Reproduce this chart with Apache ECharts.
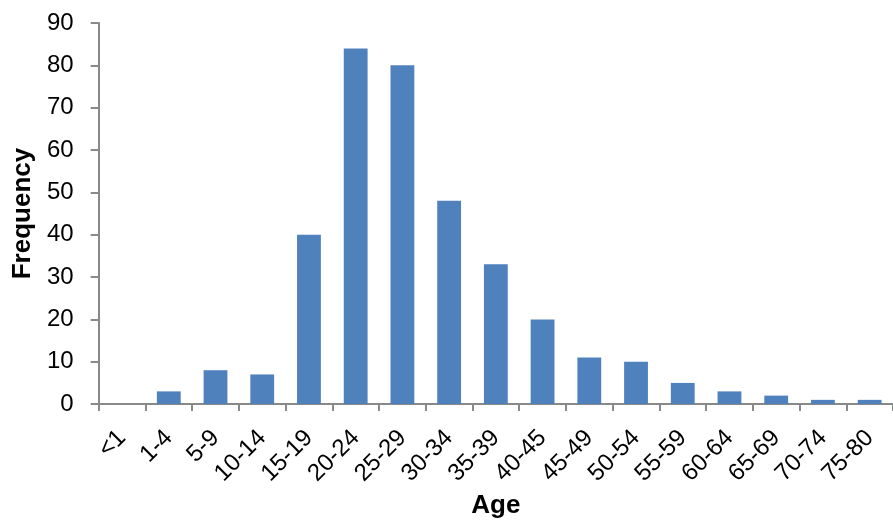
<!DOCTYPE html>
<html>
<head>
<meta charset="utf-8">
<script src="https://cdn.jsdelivr.net/npm/echarts@6/dist/echarts.min.js"></script>
<style>html,body{margin:0;padding:0;background:#fff;}#c{width:893px;height:524px;}</style>
</head>
<body>
<div id="c"></div>
<script>
const categories = ['<1','1-4','5-9','10-14','15-19','20-24','25-29','30-34','35-39','40-45','45-49','50-54','55-59','60-64','65-69','70-74','75-80'];
const frequency = [0, 3, 8, 7, 40, 84, 80, 48, 33, 20, 11, 10, 5, 3, 2, 1, 1];
const yTicks = {min: 0, max: 90, interval: 10};

const font = "'Liberation Sans', Arial, sans-serif";
const chart = echarts.init(document.getElementById('c'), null, {renderer: 'canvas'});
chart.setOption({
  animation: false,
  backgroundColor: '#ffffff',
  grid: {left: 98.7, right: -11.7, top: 23, bottom: 112.3, containLabel: false},
  xAxis: {
    type: 'category',
    data: categories,
    name: 'Age',
    nameLocation: 'middle',
    nameGap: 87,
    nameTextStyle: {fontFamily: font, fontSize: 26, fontWeight: 'bold', color: '#000'},
    axisLine: {lineStyle: {color: '#898989', width: 2}},
    axisTick: {show: true, length: 7, lineStyle: {color: '#898989', width: 2}},
    axisLabel: {rotate: 45, interval: 0, margin: 30, fontFamily: font, fontSize: 24, color: '#000'}
  },
  yAxis: {
    type: 'value',
    min: yTicks.min, max: yTicks.max, interval: yTicks.interval,
    name: 'Frequency',
    nameLocation: 'middle',
    nameGap: 62,
    nameTextStyle: {fontFamily: font, fontSize: 26, fontWeight: 'bold', color: '#000'},
    axisLine: {show: true, lineStyle: {color: '#898989', width: 2}},
    axisTick: {show: true, length: 8, lineStyle: {color: '#898989', width: 2}},
    splitLine: {show: false},
    axisLabel: {margin: 25, fontFamily: font, fontSize: 24, color: '#000'}
  },
  series: [{
    type: 'bar',
    data: frequency,
    barCategoryGap: '49%',
    itemStyle: {color: '#4F81BD'}
  }]
});
</script>
</body>
</html>
